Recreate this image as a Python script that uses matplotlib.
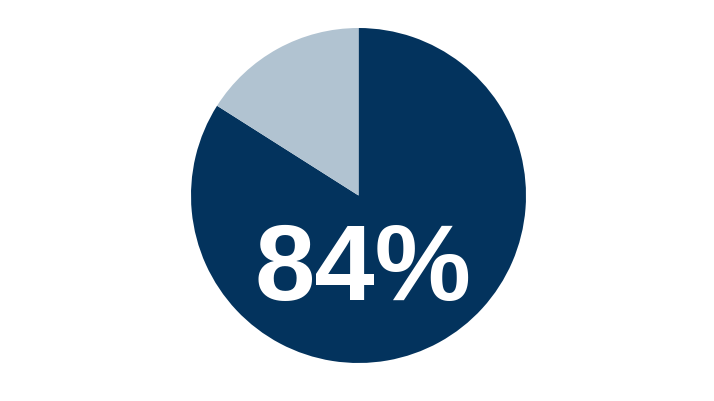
import matplotlib
matplotlib.use("Agg")
import matplotlib.pyplot as plt

# Share of the pie: dark part first (clockwise from 12 o'clock), then the rest
shares = [84, 16]
colors = ["#03335d", "#b1c3d1"]
label = "84%"

W, H = 714, 402
fig = plt.figure(figsize=(W / 100, H / 100), dpi=100)
ax = fig.add_axes([0, 0, 1, 1])
ax.set_xlim(0, W)
ax.set_ylim(0, H)
ax.set_aspect("equal")
ax.axis("off")

ax.pie(shares, colors=colors, startangle=90, counterclock=False,
       center=(358.5, H - 196.5), radius=167.5,
       wedgeprops={"linewidth": 0})
ax.set_xlim(0, W)
ax.set_ylim(0, H)

ax.text(363.5, H - 300.5, label, color="white", fontsize=78,
        fontweight="bold", family="Liberation Sans",
        ha="center", va="baseline")

fig.savefig("out.png", dpi=100, facecolor="white")
